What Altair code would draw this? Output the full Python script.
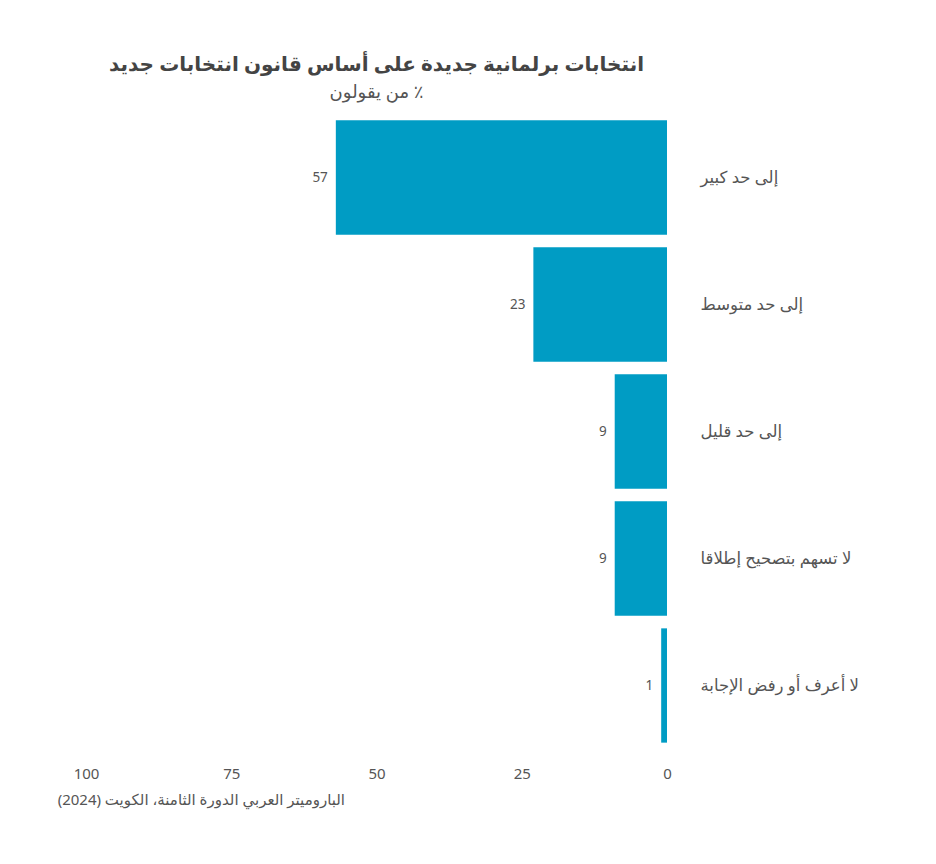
import altair as alt
import pandas as pd

RLM = "\u200F"

categories = [
    "إلى حد كبير",
    "إلى حد متوسط",
    "إلى حد قليل",
    "لا تسهم بتصحيح إطلاقا",
    "لا أعرف أو رفض الإجابة",
]
values = [57, 23, 9, 9, 1]
x_ticks = [0, 25, 50, 75, 100]

title_text = "انتخابات برلمانية جديدة على أساس قانون انتخابات جديد"
subtitle_text = RLM + "٪ من يقولون" + RLM
source_text = RLM + "الباروميتر العربي الدورة الثامنة، الكويت (2024)" + RLM

FONT = "Noto Sans, DejaVu Sans, sans-serif"
BAR = "#009cc4"
GREY = "#555555"

df = pd.DataFrame({"category": categories, "value": values})

x_enc = alt.X(
    "value:Q",
    scale=alt.Scale(domain=[0, 100], reverse=True),
    axis=alt.Axis(
        values=x_ticks,
        title=None,
        domain=False,
        ticks=False,
        grid=False,
        labelFlush=False,
        labelFontSize=15,
        labelColor=GREY,
        labelPadding=17,
        labelFont=FONT,
    ),
)
y_enc = alt.Y(
    "category:N",
    sort=categories,
    scale=alt.Scale(paddingInner=0.1, paddingOuter=0.05),
    axis=alt.Axis(
        orient="right",
        title=None,
        domain=False,
        ticks=False,
        grid=False,
        labelAlign="left",
        labelPadding=33,
        labelFontSize=16.5,
        labelColor=GREY,
        labelFont=FONT,
        labelLimit=300,
    ),
)

bars = alt.Chart(df).mark_bar(color=BAR).encode(x=x_enc, y=y_enc)

labels = alt.Chart(df).mark_text(
    align="right", baseline="middle", dx=-8, fontSize=13.5, color=GREY, font=FONT
).encode(x="value:Q", y=alt.Y("category:N", sort=categories), text="value:Q")

source = alt.Chart(pd.DataFrame({"t": [source_text]})).mark_text(
    align="right", baseline="middle", fontSize=15, color=GREY, font=FONT
).encode(x=alt.value(259), y=alt.value(686), text="t:N")

chart = (
    alt.layer(bars, labels, source)
    .properties(
        width=581,
        height=635,
        autosize=alt.AutoSizeParams(type="none"),
        padding={"left": 78, "top": 106, "right": 250, "bottom": 100},
        title=alt.Title(
            text=title_text,
            subtitle=subtitle_text,
            anchor="middle",
            fontSize=20,
            fontWeight="bold",
            color="#444444",
            font=FONT,
            subtitleFont=FONT,
            subtitleFontSize=18,
            subtitleColor=GREY,
            subtitlePadding=9,
            offset=12,
        ),
    )
    .configure_view(stroke=None)
)

chart.save("out.html", embed_options={"renderer": "svg", "actions": False})
